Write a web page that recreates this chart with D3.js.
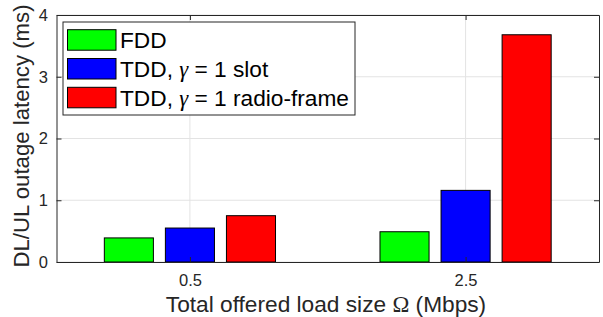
<!DOCTYPE html>
<html>
<head>
<meta charset="utf-8">
<script src="https://cdn.jsdelivr.net/npm/d3@7"></script>
<style>
  body { margin: 0; background: #fff; }
  svg { display: block; font-family: "Liberation Sans", Arial, sans-serif; }
</style>
</head>
<body>
<svg id="chart" width="603" height="317"></svg>
<script>
const categories = ['0.5', '2.5'];
const seriesNames = ['FDD', 'TDD, γ = 1 slot', 'TDD, γ = 1 radio-frame'];
const seriesColors = ['#00ff00', '#0000ff', '#ff0000'];
const fdd = [0.39, 0.49];
const tddSlot = [0.55, 1.16];
const tddFrame = [0.75, 3.68];
const yTicks = [0, 1, 2, 3, 4];

const series = [fdd, tddSlot, tddFrame];

const width = 603, height = 317;
const margin = {top: 15, left: 56.5, right: 4, bottom: 55};
const svg = d3.select('#chart');

const plotW = width - margin.left - margin.right;
const plotH = height - margin.top - margin.bottom;
const g = svg.append('g').attr('transform', `translate(${margin.left},${margin.top})`);

// groups sit at index 1 and 2
const x = d3.scaleLinear().domain([0.516, 2.484]).range([0, plotW]);
const y = d3.scaleLinear().domain([0, 4]).range([plotH, 0]);
const groupStep = x(2) - x(1);
const barOffset = d3.scaleLinear().domain([0, 1]).range([-0.2215 * groupStep, 0.2215 * groupStep]);
const barW = 0.178 * groupStep;

const axisColor = '#262626';

// grid
g.append('g').selectAll('line.gy').data(yTicks).join('line')
  .attr('x1', 0).attr('x2', plotW)
  .attr('y1', d => y(d)).attr('y2', d => y(d))
  .attr('stroke', '#e3e3e3').attr('stroke-width', 1);
g.append('g').selectAll('line.gx').data(categories).join('line')
  .attr('x1', (d, i) => x(i + 1)).attr('x2', (d, i) => x(i + 1))
  .attr('y1', 0).attr('y2', plotH)
  .attr('stroke', '#e3e3e3').attr('stroke-width', 1);

// bars
series.forEach((vals, s) => {
  g.append('g').selectAll('rect').data(vals).join('rect')
    .attr('x', (d, i) => x(i + 1) + barOffset(s / 2) - barW / 2)
    .attr('y', d => y(d))
    .attr('width', barW)
    .attr('height', d => y(0) - y(d))
    .attr('fill', seriesColors[s])
    .attr('stroke', '#000')
    .attr('stroke-width', 1);
});

// axes box
const axisLeft = d3.axisLeft(y).tickValues(yTicks).tickFormat(d3.format('d'))
  .tickSizeInner(-5).tickSizeOuter(0).tickPadding(8.5);
const axisRight = d3.axisRight(y).tickValues(yTicks).tickSizeInner(-5).tickSizeOuter(0).tickFormat('');
const axisBottom = d3.axisBottom(x).tickValues([1, 2]).tickFormat((d) => categories[d - 1])
  .tickSizeInner(-5).tickSizeOuter(0).tickPadding(12);
const axisTop = d3.axisTop(x).tickValues([1, 2]).tickFormat('').tickSizeInner(-5).tickSizeOuter(0);

function styleAxis(sel) {
  sel.attr('font-size', null).attr('font-family', null);
  sel.selectAll('path').attr('stroke', axisColor).attr('stroke-width', 1);
  sel.selectAll('line').attr('stroke', axisColor);
  sel.selectAll('text').attr('fill', axisColor).style('font-size', '16.5px')
    .style('font-family', '"Liberation Sans", Arial, sans-serif');
}
g.append('g').call(axisLeft).call(styleAxis);
g.append('g').attr('transform', `translate(${plotW},0)`).call(axisRight).call(styleAxis);
g.append('g').attr('transform', `translate(0,${plotH})`).call(axisBottom).call(styleAxis);
g.append('g').call(axisTop).call(styleAxis);

// legend
const leg = svg.append('g').attr('transform', 'translate(63,22)');
leg.append('rect').attr('width', 292).attr('height', 93)
  .attr('fill', '#fff').attr('stroke', '#262626').attr('stroke-width', 1);
seriesNames.forEach((name, i) => {
  const row = leg.append('g').attr('transform', `translate(0,${7.7 + i * 28.8})`);
  row.append('rect').attr('x', 4.5).attr('y', 0).attr('width', 48.5).attr('height', 20.5)
    .attr('fill', seriesColors[i]).attr('stroke', '#000').attr('stroke-width', 1);
  const t = row.append('text').attr('x', 57).attr('y', 18.6)
    .style('font-size', '22.7px').attr('fill', '#000');
  const parts = name.split('γ');
  t.append('tspan').text(parts[0]);
  if (parts.length > 1) {
    t.append('tspan').style('font-family', '"Liberation Serif", serif').style('font-style', 'italic').text('γ');
    t.append('tspan').text(parts[1]);
  }
});

// axis labels
svg.append('text')
  .attr('transform', 'translate(29,136) rotate(-90)')
  .attr('text-anchor', 'middle')
  .style('font-size', '22.2px').attr('fill', axisColor)
  .text('DL/UL outage latency (ms)');

const xl = svg.append('text')
  .attr('x', 326).attr('y', 312)
  .attr('text-anchor', 'middle')
  .style('font-size', '22.7px').attr('fill', axisColor);
xl.append('tspan').text('Total offered load size ');
xl.append('tspan').style('font-family', '"Liberation Serif", serif').text('Ω');
xl.append('tspan').text(' (Mbps)');
</script>
</body>
</html>
